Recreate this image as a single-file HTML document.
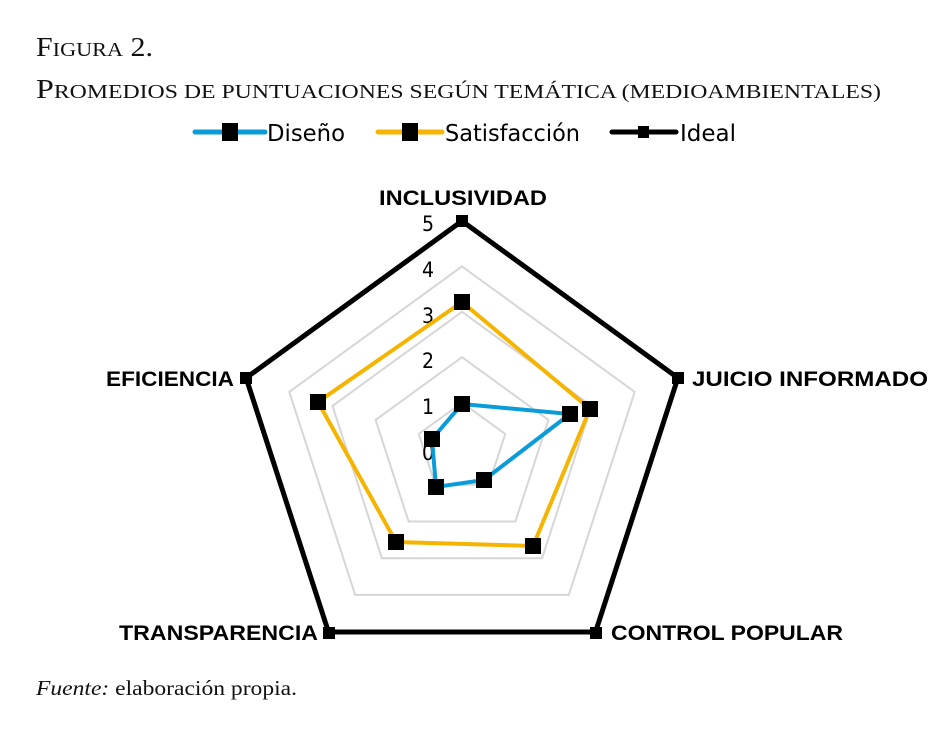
<!DOCTYPE html>
<html><head><meta charset="utf-8"><style>
body{margin:0;background:#fff;width:952px;height:730px;overflow:hidden}
svg{display:block}
.t{font-family:"Liberation Serif",serif;fill:#111}
.s{font-family:"DejaVu Sans Condensed","Liberation Sans",sans-serif;fill:#000}
.b{font-family:"Liberation Sans",sans-serif;font-weight:bold;font-size:21px;fill:#000}
</style></head><body>
<svg width="952" height="730" viewBox="0 0 952 730">
<text class="t" x="36" y="56" font-size="27" textLength="117" lengthAdjust="spacingAndGlyphs">F<tspan font-size="20">IGURA</tspan> 2.</text>
<text class="t" x="36" y="98" font-size="27" textLength="845" lengthAdjust="spacingAndGlyphs">P<tspan font-size="20">ROMEDIOS DE PUNTUACIONES SEGÚN TEMÁTICA (MEDIOAMBIENTALES)</tspan></text>
<!-- legend -->
<line x1="195" y1="132" x2="265" y2="132" stroke="#0a9cd8" stroke-width="5" stroke-linecap="round"/>
<rect x="222" y="123" width="16" height="18" fill="#000"/>
<text class="s" x="267" y="141" font-size="23" textLength="78" lengthAdjust="spacingAndGlyphs">Diseño</text>
<line x1="378" y1="132" x2="442" y2="132" stroke="#f5b400" stroke-width="5" stroke-linecap="round"/>
<rect x="402" y="123" width="16" height="18" fill="#000"/>
<text class="s" x="445" y="141" font-size="23" textLength="135" lengthAdjust="spacingAndGlyphs">Satisfacción</text>
<line x1="612" y1="132" x2="676" y2="132" stroke="#000" stroke-width="5" stroke-linecap="round"/>
<rect x="638" y="126" width="11" height="12" fill="#000"/>
<text class="s" x="680" y="141" font-size="23" textLength="56" lengthAdjust="spacingAndGlyphs">Ideal</text>
<!-- grid -->
<g fill="none" stroke="#d6d6d6" stroke-width="2">
<polygon points="462,402.6 505.2,434 488.7,484.7 435.3,484.7 418.8,434"/>
<polygon points="462,357.2 548.4,419.9 515.4,521.5 408.6,521.5 375.6,419.9"/>
<polygon points="462,311.8 591.5,405.9 542.1,558.2 381.9,558.2 332.5,405.9"/>
<polygon points="462,266.4 634.7,391.9 568.8,594.9 355.2,594.9 289.3,391.9"/>
</g>
<polygon points="462,221 677.9,377.9 595.5,632 328.5,632 246.1,377.9" fill="none" stroke="#000" stroke-width="5"/>
<g class="s" font-size="21" text-anchor="end">
<text x="434" y="460">0</text><text x="434" y="414">1</text><text x="434" y="368">2</text>
<text x="434" y="323">3</text><text x="434" y="277">4</text><text x="434" y="231">5</text>
</g>
<polygon points="462,302 590,409 533,546 396,542 318,402" fill="none" stroke="#f5b400" stroke-width="4"/>
<polygon points="462,404 570,414 484,480 436,487 432,439" fill="none" stroke="#0a9cd8" stroke-width="4"/>
<g fill="#000">
<rect x="454" y="294" width="16" height="16"/><rect x="582" y="401" width="16" height="16"/><rect x="525" y="538" width="16" height="16"/><rect x="388" y="534" width="16" height="16"/><rect x="310" y="394" width="16" height="16"/>
<rect x="454" y="396" width="16" height="16"/><rect x="562" y="406" width="16" height="16"/><rect x="476" y="472" width="16" height="16"/><rect x="428" y="479" width="16" height="16"/><rect x="424" y="431" width="16" height="16"/>
<rect x="456" y="215" width="12" height="12"/><rect x="672" y="372" width="12" height="12"/><rect x="590" y="627" width="12" height="12"/><rect x="323" y="627" width="12" height="12"/><rect x="240" y="372" width="12" height="12"/>
</g>
<text class="b" x="379" y="205" textLength="168" lengthAdjust="spacingAndGlyphs">INCLUSIVIDAD</text>
<text class="b" x="692" y="386" textLength="236" lengthAdjust="spacingAndGlyphs">JUICIO INFORMADO</text>
<text class="b" x="611" y="640" textLength="232" lengthAdjust="spacingAndGlyphs">CONTROL POPULAR</text>
<text class="b" x="119" y="640" textLength="199" lengthAdjust="spacingAndGlyphs">TRANSPARENCIA</text>
<text class="b" x="106" y="386" textLength="128" lengthAdjust="spacingAndGlyphs">EFICIENCIA</text>
<text class="t" x="36" y="695" font-size="21" textLength="261" lengthAdjust="spacingAndGlyphs"><tspan font-style="italic">Fuente:</tspan> elaboración propia.</text>
</svg>
</body></html>
